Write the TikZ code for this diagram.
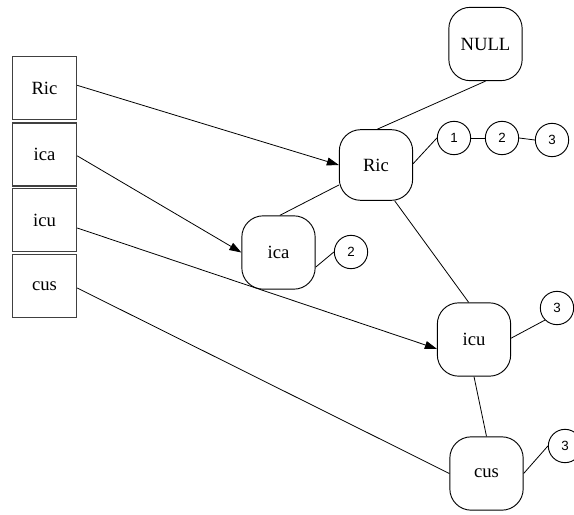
\documentclass[tikz,border=0pt]{standalone}
\usepackage{fontspec}
\setmainfont{Liberation Serif}
\newfontfamily\digitfont{Liberation Sans}
\usetikzlibrary{arrows.meta}
\begin{document}
\begin{tikzpicture}[x=0.75pt,y=-0.75pt,
  keybox/.style={draw=black!75,line width=1.1pt,minimum width=48pt,minimum height=47pt,inner sep=0pt,font=\fontsize{14}{16}\selectfont},
  trienode/.style={draw,line width=0.7pt,rounded corners=16pt,minimum width=55pt,minimum height=55pt,inner sep=0pt,font=\fontsize{14}{16}\selectfont},
  posnode/.style={draw,circle,line width=0.7pt,minimum size=25pt,inner sep=0pt,font=\digitfont\fontsize{10}{12}\selectfont},
  link/.style={line width=0.6pt},
  arr/.style={line width=0.6pt,-{Triangle[length=9pt,width=6pt]}}]
\useasboundingbox (0,0) rectangle (574,514);
% left boxes
\node[keybox] (RicB) at (44.5,88) {Ric};
\node[keybox] (icaB) at (44.5,154.5) {ica};
\node[keybox] (icuB) at (44.5,220) {icu};
\node[keybox] (cusB) at (44.5,286) {cus};
% trie nodes
\node[trienode] (NULL) at (485.5,44) {NULL};
\node[trienode,minimum height=53pt] (Ric) at (376,165) {Ric};
\node[trienode] (ica) at (278.5,252.5) {ica};
\node[trienode] (icu) at (474,339.5) {icu};
\node[trienode] (cus) at (486.5,473.5) {cus};
% position circles
\node[posnode] (p1) at (454,138) {1};
\node[posnode] (p2) at (502,138) {2};
\node[posnode] (p3) at (552,140) {3};
\node[posnode] (ica2) at (351,252) {2};
\node[posnode] (icu3) at (557,308) {3};
\node[posnode] (cus3) at (565,446) {3};
% trie links
\draw[link] (NULL.south) -- ([xshift=1pt]Ric.north);
\draw[link] ([yshift=1pt]Ric.east) -- (p1.west);
\draw[link] (p1.east) -- (p2.west);
\draw[link] (p2.east) -- (p3.west);
\draw[link] ([yshift=-15pt]Ric.west) -- ([xshift=1pt]ica.north);
\draw[link] ([yshift=-11pt]ica.east) -- (ica2.west);
\draw[link] ([xshift=14pt]Ric.south) -- ([xshift=-4pt]icu.north);
\draw[link] ([yshift=1pt]icu.east) -- (icu3.south west);
\draw[link] (icu.south) -- (cus.north);
\draw[link] (cus.east) -- (cus3.west);
% pointers
\draw[arr] ([yshift=2pt]RicB.east) -- (Ric.west);
\draw[arr] ([yshift=-1pt]icaB.east) -- (ica.west);
\draw[arr] ([yshift=-6pt]icuB.east) -- ([yshift=-7pt]icu.west);
\draw[link] ([yshift=-1.5pt]cusB.east) -- (cus.west);
\end{tikzpicture}
\end{document}
